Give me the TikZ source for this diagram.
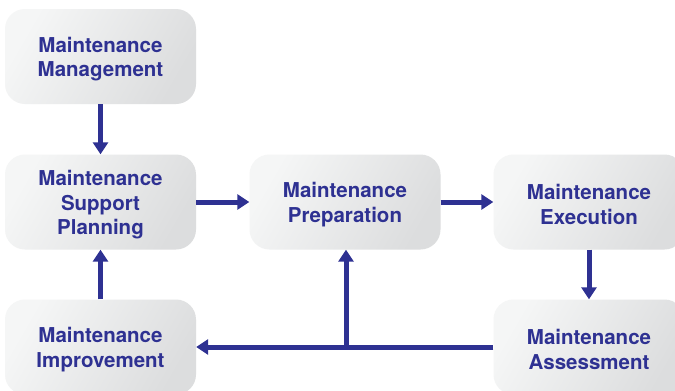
\documentclass[tikz,border=0pt]{standalone}
\usepackage{fontspec}
\setmainfont{TeX Gyre Heros}
\usetikzlibrary{arrows.meta}
\definecolor{ink}{HTML}{2E3192}
\definecolor{boxlight}{HTML}{F5F6F6}
\definecolor{boxdark}{HTML}{DCDDDE}
\newcommand{\mystrut}{\rule{0pt}{20.5pt}}
\tikzset{
  box/.style={rounded corners=20pt, left color=boxlight, right color=boxdark, shading angle=60,
    minimum width=191pt, minimum height=95pt, inner sep=0pt, align=center,
    text=ink, font=\fontsize{20.5}{24.5}\selectfont\bfseries},
  conn/.style={draw=ink, line width=5pt, -{Triangle[width=15pt,length=12pt]}}
}
\begin{document}
\begin{tikzpicture}[x=1pt,y=-1pt]
\useasboundingbox (0,0) rectangle (675,391);
\clip (0,0) rectangle (675,391);
\fill[white] (0,0) rectangle (675,391);
\node[box] (mgmt) at (100.5,56.5) {\mystrut Maintenance\\Management};
\node[box] (plan) at (100.5,202) {\mystrut Maintenance\\Support\\Planning};
\node[box] (prep) at (345,202) {\mystrut Maintenance\\Preparation};
\node[box] (exec) at (589,202) {\mystrut Maintenance\\Execution};
\node[box] (assess) at (589,347) {\mystrut Maintenance\\Assessment};
\node[box] (impr) at (100.5,347) {\mystrut Maintenance\\Improvement};
\coordinate (j) at (346,347);
\draw[conn] (mgmt.south) -- (plan.north);
\draw[conn] (plan.east) -- (prep.west);
\draw[conn] (prep.east) -- (exec.west);
\draw[conn] (exec.south) -- (assess.north);
\draw[conn] (assess.west) -- (impr.east);
\draw[conn] (j) -- (j |- prep.south);
\draw[conn] (impr.north) -- (plan.south);
\end{tikzpicture}
\end{document}
